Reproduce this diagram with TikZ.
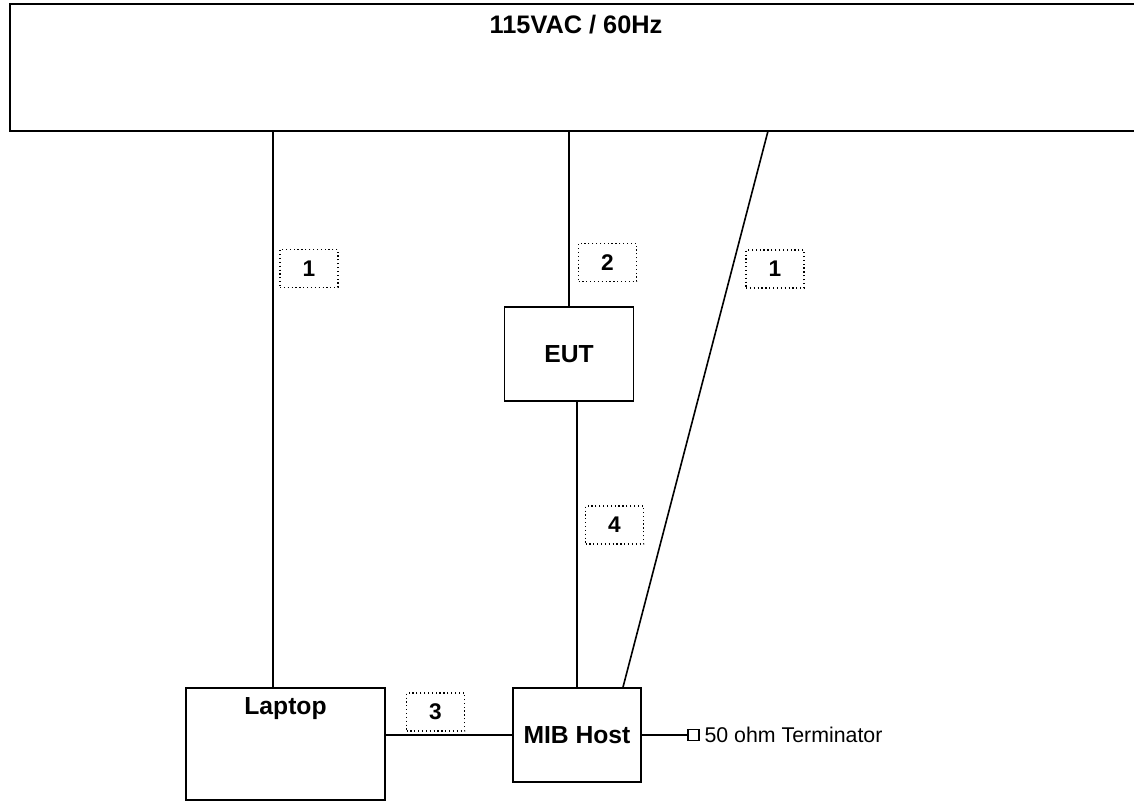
\documentclass[tikz,border=0pt]{standalone}
\usepackage{fontspec}
\setmainfont{Liberation Sans}
\usepackage{tikz}
\usetikzlibrary{positioning}

\tikzset{
	unit/.style={draw=black, line width=1.3pt, inner sep=0pt, font=\fontsize{18.5}{20}\selectfont\bfseries},
	cable/.style={draw=black, dotted, line width=0.9pt, minimum width=43.5pt, minimum height=28.5pt, inner sep=0pt, font=\fontsize{17}{18}\selectfont\bfseries},
	wire/.style={black, line width=1.2pt}
}

\begin{document}
\begin{tikzpicture} [x=0.75pt, y=-0.75pt]
						\clip (0,0) rectangle (1134,801);
						\fill [white] (0,0) rectangle (1134,801);

						% mains strip, runs off to the right
						\node [unit, minimum width=849pt, minimum height=95.25pt,
							label={[anchor=north, inner sep=0pt, yshift=-9pt, font=\fontsize{19}{21}\selectfont\bfseries]north:115VAC / 60Hz}] (mains) at (576, 67.5) {};

						\node [unit, minimum width=96.75pt, minimum height=70.5pt] (eut) at (569, 354) {EUT};

						\node [unit, minimum width=96pt, minimum height=70.5pt] (mib) at (577, 735) {MIB Host};

						\node [unit, minimum width=149.25pt, minimum height=84pt,
							label={[anchor=north, inner sep=0pt, yshift=-7.5pt, font=\fontsize{18.5}{20}\selectfont\bfseries]north:Laptop}] (laptop) at (285.5, 744) {};

						\node [draw=black, line width=1pt, minimum size=8.25pt, inner sep=0pt] (term) at (693.5, 735) {};
						\node [right=3.5pt of term, inner sep=0pt, font=\fontsize{16}{18}\selectfont] (termtext) {50 ohm Terminator};

						\coordinate (rtap) at (768, 131);

						% cables
						\draw [wire] (laptop.north) ++(-12.5,0) coordinate (ltap) -- (ltap |- mains.south);
						\draw [wire] (eut.north) -- (eut.north |- mains.south);
						\draw [wire] (mib.north) -- (mib.north |- eut.south);
						\draw [wire] (mib.north) ++(46,0) coordinate (mtap) -- (rtap);
						\draw [wire] (mib.west) -- (mib.west -| laptop.east);
						\draw [wire] (mib.east) -- (term.west);

						\node [cable] (c1a) at (309, 268.5) {1};
						\node [cable] (c2) at (607.5, 262.5) {2};
						\node [cable] (c1b) at (775, 269) {1};
						\node [cable] (c4) at (614.5, 525) {4};
						\node [cable] (c3) at (435.5, 712) {3};

					\end{tikzpicture}
\end{document}
